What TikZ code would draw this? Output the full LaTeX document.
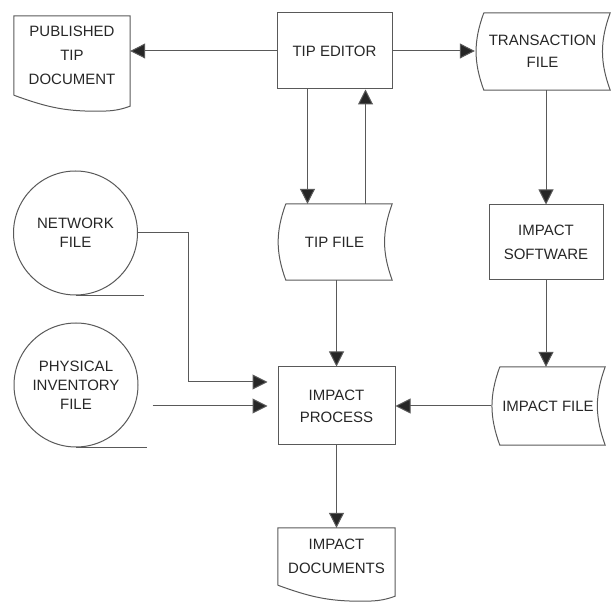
\documentclass[tikz,border=0pt]{standalone}
\usepackage{fontspec}
\setmainfont{Liberation Sans}
\usetikzlibrary{arrows.meta}
\newcommand{\lbl}[1]{\fontsize{15}{#1}\selectfont}

\begin{document}
\begin{tikzpicture}[
		x=1pt, y=1pt,
		wire/.style={black!65, line width=1pt},
		flow/.style={wire, -{Triangle[length=15pt,width=15pt,fill=black!85]}},
		proc/.style={draw, wire, rectangle, minimum width=115pt, minimum height=76pt, inner sep=0pt, align=center, text=black!85, font=\lbl{22}},
		file/.style={rectangle, minimum width=115pt, minimum height=76pt, inner sep=0pt, align=center, text=black!85, font=\lbl{22}},
		tape/.style={draw, wire, circle, minimum size=124pt, inner sep=0pt, align=center, text=black!85, font=\lbl{19}},
		]
	\useasboundingbox (0,0) rectangle (612,602);

	% nodes
	\node (pub) [file, minimum width=116pt, minimum height=79pt, font=\lbl{24}] at (72,546.5) {PUBLISHED\\TIP\\DOCUMENT};
	\node (ed) [proc] at (334.5,551) {TIP EDITOR};
	\node (tr) [file, minimum width=135pt, minimum height=77pt] at (542.5,550.5) {TRANSACTION\\FILE};
	\node (tf) [file] at (334.5,360) {TIP FILE};
	\node (sw) [proc, minimum width=114pt, minimum height=75pt, font=\lbl{24}] at (546,359.5) {IMPACT\\SOFTWARE};
	\node (net) [tape] at (75.5,369) {NETWORK\\FILE};
	\node (phys) [tape] at (76,217) {PHYSICAL\\INVENTORY\\FILE};
	\node (ip) [proc, minimum width=117pt, minimum height=78pt] at (336.5,196) {IMPACT\\PROCESS};
	\node (if) [file, minimum width=114pt, minimum height=78pt] at (548,196) {IMPACT FILE};
	\node (doc) [file, minimum width=117pt, minimum height=57pt, font=\lbl{24}] at (336.5,45.5) {IMPACT\\DOCUMENTS};

	% outlines of the file and document symbols
	\foreach \n in {tr,tf,if}
		\draw[wire] ([xshift=9pt]\n.north west) -- (\n.north east) to[out=250,in=110] (\n.south east)
			-- ([xshift=9pt]\n.south west) to[out=110,in=250] ([xshift=9pt]\n.north west);
	\foreach \n in {pub,doc}
		\draw[wire] (\n.south west) -- (\n.north west) -- (\n.north east) -- ([yshift=-11pt]\n.south east)
			to[out=200,in=0] ([xshift=-35pt,yshift=-16pt]\n.south east) to[out=180,in=-20] (\n.south west);
	\draw[wire] (net.south) -- ++(68,0);
	\draw[wire] (phys.south) -- ++(71,0);

	% connectors
	\draw[flow] (ed.west) -- (ed.west -| pub.east);
	\draw[flow] (ed.east) -- (ed.east -| tr.west);
	\draw[flow] ([xshift=-27pt]ed.south) -- ([xshift=-27pt]ed.south |- tf.north);
	\draw[flow] ([xshift=31pt]tf.north) -- ([xshift=31pt]tf.north |- ed.south);
	\draw[flow] (sw.north |- tr.south) -- (sw.north);
	\draw[flow] (sw.south) -- (sw.south |- if.north);
	\draw[flow] (ip.north |- tf.south) -- (ip.north);
	\draw[flow] (if.west) -- (ip.east);
	\draw[flow] (ip.south) -- (doc.north);
	\draw[flow, shorten >=10pt] (net.east) -- ++(50.5,0) |- ([yshift=24pt]ip.west);
	\draw[flow, shorten >=10pt] ([xshift=14pt]phys.east |- ip.west) -- (ip.west);
\end{tikzpicture}
\end{document}
